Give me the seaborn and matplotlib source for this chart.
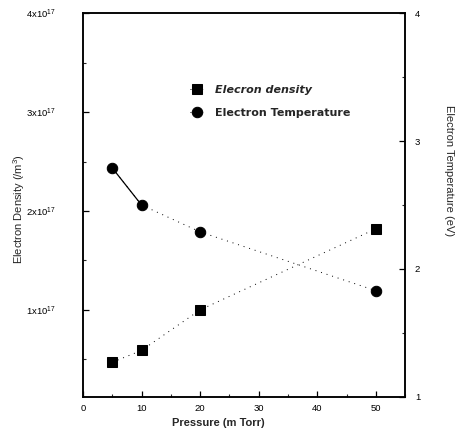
import numpy as np
import matplotlib
matplotlib.use("Agg")
import matplotlib.pyplot as plt
import seaborn as sns
from matplotlib.ticker import FuncFormatter, MultipleLocator

# ---- data ----
pressure = [5, 10, 20, 50]                        # m Torr
density = [0.47e17, 0.59e17, 1.0e17, 1.82e17]     # /m^3
temperature = [2.79, 2.50, 2.29, 1.83]            # eV

sns.set_style("ticks")
plt.rcParams['font.family'] = ['Liberation Sans', 'DejaVu Sans']
plt.rcParams['mathtext.default'] = 'regular'

fig = plt.figure(figsize=(4.61, 4.40), dpi=100)
ax = fig.add_axes([0.180, 0.098, 0.699, 0.872])
ax2 = ax.twinx()

# electron density (squares, faint dotted line)
sns.lineplot(x=pressure, y=density, ax=ax, color='k', marker='s', markersize=7.5,
             linestyle=(0, (1, 5)), linewidth=0.7, markeredgecolor='k',
             label='Elecron density', legend=False)

# electron temperature (circles, solid first segment then dotted)
sns.lineplot(x=pressure, y=temperature, ax=ax2, color='k', marker='o', markersize=7.5,
             linestyle=(0, (1, 5)), linewidth=0.7, markeredgecolor='k',
             label='Electron Temperature', legend=False)
sns.lineplot(x=pressure[:2], y=temperature[:2], ax=ax2, color='k', linewidth=0.9,
             legend=False)

ax.set_xlim(0, 55)
ax.set_ylim(0.12e17, 4e17)
ax2.set_ylim(1, 4)

ax.xaxis.set_major_locator(MultipleLocator(10))
ax.xaxis.set_minor_locator(MultipleLocator(5))
ax.yaxis.set_major_locator(MultipleLocator(1e17))
ax.yaxis.set_minor_locator(MultipleLocator(0.5e17))
ax.yaxis.set_major_formatter(FuncFormatter(
    lambda v, _: r'$%dx10^{17}$' % int(round(v / 1e17))))
ax2.yaxis.set_major_locator(MultipleLocator(1))
ax2.yaxis.set_minor_locator(MultipleLocator(0.5))
ax2.yaxis.set_major_formatter(FuncFormatter(lambda v, _: '%d' % v))

for a in (ax, ax2):
    a.tick_params(which='major', direction='in', length=4, width=0.9,
                  labelsize=6.8, colors='k')
    a.tick_params(which='minor', direction='in', length=2.5, width=0.8)
    for s in a.spines.values():
        s.set_linewidth(1.1)
        s.set_color('k')
ax.tick_params(axis='y', which='major', pad=20)
ax.tick_params(axis='x', which='major', pad=5)
ax2.tick_params(axis='y', which='major', pad=7)

ax.set_xlabel('Pressure (m Torr)', fontsize=8, fontweight='bold')
ax.xaxis.set_label_coords(0.42, -0.055)
ax.set_ylabel('Electron Density (/m$^3$)', fontsize=8)
ax.yaxis.set_label_coords(-0.175, 0.49)
ax2.set_ylabel('Electron Temperature (eV)', fontsize=8, rotation=-90)
ax2.yaxis.set_label_coords(1.15, 0.59)

h1, l1 = ax.get_legend_handles_labels()
h2, l2 = ax2.get_legend_handles_labels()
leg = ax.legend(h1 + h2[:1], l1 + l2[:1], frameon=False,
                prop={'family': 'DejaVu Sans', 'size': 8, 'weight': 'bold'},
                handlelength=1.4, handletextpad=0.9, labelspacing=1.2,
                loc='upper left', bbox_to_anchor=(0.30, 0.84))
leg.get_texts()[0].set_style('italic')

fig.savefig('out.png', dpi=100)
